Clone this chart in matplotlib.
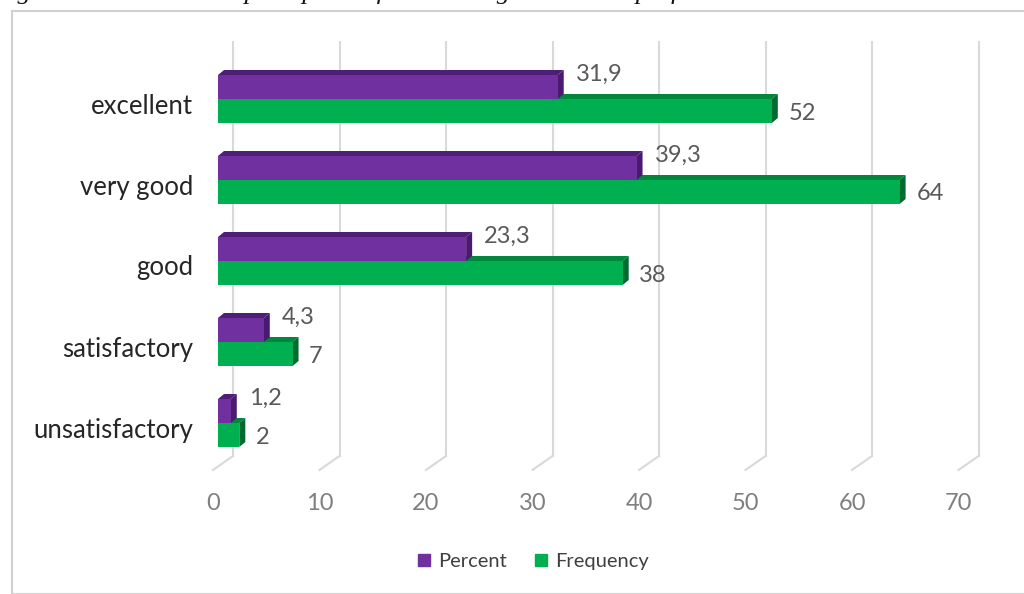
import numpy as np
import matplotlib.pyplot as plt
from matplotlib.patches import Polygon, Rectangle
from matplotlib.lines import Line2D

# data
categories = ["excellent", "very good", "good", "satisfactory", "unsatisfactory"]
percent = [31.9, 39.3, 23.3, 4.3, 1.2]
frequency = [52, 64, 38, 7, 2]
percent_labels = ["31,9", "39,3", "23,3", "4,3", "1,2"]
frequency_labels = ["52", "64", "38", "7", "2"]
xticks = [0, 10, 20, 30, 40, 50, 60, 70]

PURPLE = ("#7030A0", "#4F1F78", "#4A1A70")   # front, top, side
GREEN = ("#00B050", "#00873D", "#006B30")

plt.rcParams['font.family'] = ['Lato', 'DejaVu Sans']

W, H = 1024, 594
fig = plt.figure(figsize=(W / 100, H / 100), dpi=100)

# axes: x pixel = 218 + 10.65 * value, y pixel = 99 + 81 * index
px_per_val = 10.65
px_per_cat = 81.0
x0_px, y0_px = 218.0, 99.0
xmax = (W - x0_px) / px_per_val
ytop = (0 - y0_px) / px_per_cat
ybot = (H - y0_px) / px_per_cat
ax = fig.add_axes([x0_px / W, 0, 1 - x0_px / W, 1])
ax.set_xlim(0, xmax)
ax.set_ylim(ybot, ytop)
ax.axis('off')

def vx(px):
    return px / px_per_val

def vy(px):
    return px / px_per_cat

# outer chart frame
frame = Rectangle((12 / W, 0), 1.2, (H - 11) / H, transform=fig.transFigure,
                  fill=False, edgecolor="#D0D0D0", linewidth=1.5)
fig.patches.append(frame)

# caption cut off by the top edge
fig.text(-6 / W, 1 + 8 / H, "Figure no. 4. Teachers' perception of current organizational performance",
         family="Liberation Serif", style="italic", fontsize=19, ha="left", va="center",
         color="#111111")

# back wall grid + floor ticks
wall_off = vx(15)
grid_top = vy(42 - y0_px)
grid_bot = vy(456 - y0_px)
floor_y = vy(470 - y0_px)
for t in xticks:
    ax.plot([t + wall_off, t + wall_off], [grid_top, grid_bot], color="#D9D9D9", lw=1.5,
            zorder=1, clip_on=False)
    ax.plot([t + wall_off, t - vx(5)], [grid_bot, floor_y], color="#D9D9D9", lw=1.5,
            zorder=1, clip_on=False)
    ax.text(t - vx(5), vy(503 - y0_px), str(t), ha="center", va="center",
            fontsize=17, color="#7F7F7F")

# 3d-ish bars
h = vy(24)
dx, dy = vx(6), vy(5)

def bar3d(y_top, width, colors):
    front, top, side = colors
    ax.add_patch(Polygon([(0, y_top), (width, y_top), (width + dx, y_top - dy), (dx, y_top - dy)],
                         closed=True, facecolor=top, edgecolor="none", zorder=3))
    ax.add_patch(Polygon([(width, y_top), (width, y_top + h), (width + dx, y_top + h - dy),
                          (width + dx, y_top - dy)],
                         closed=True, facecolor=side, edgecolor="none", zorder=3))
    ax.barh(y_top + h / 2, width, height=h, left=0, color=front, zorder=3)

for i in range(len(categories)):
    bar3d(i, frequency[i], GREEN)
for i in range(len(categories)):
    bar3d(i - h, percent[i], PURPLE)

# value labels
for i in range(len(categories)):
    ax.annotate(percent_labels[i], (percent[i], i - vy(25)), xytext=(13, 0),
                textcoords="offset points", ha="left", va="center", fontsize=17,
                color="#595959")
    ax.annotate(frequency_labels[i], (frequency[i], i + vy(14)), xytext=(12, 0),
                textcoords="offset points", ha="left", va="center", fontsize=17,
                color="#595959")

# category labels
for i, c in enumerate(categories):
    ax.text(vx(193 - x0_px), i + vy(7), c, ha="right", va="center", fontsize=18.5,
            color="#262626")

# legend
handles = [Line2D([], [], marker="s", linestyle="none", markersize=9, color=PURPLE[0]),
           Line2D([], [], marker="s", linestyle="none", markersize=9, color=GREEN[0])]
fig.legend(handles, ["Percent", "Frequency"], loc="center", ncol=2,
           bbox_to_anchor=(531 / W, 1 - 561 / H), frameon=False, fontsize=14.5,
           handlelength=1.0, handletextpad=0.2, columnspacing=1.2, labelcolor="#404040")

fig.savefig("out.png", dpi=100)
